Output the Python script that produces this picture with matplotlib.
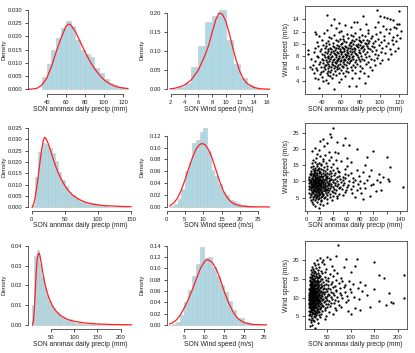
import numpy as np
import matplotlib.pyplot as plt

plt.rcParams['font.family'] = ['Liberation Sans', 'DejaVu Sans']

# ---------------- data ----------------
# row 1
precip_1_edges = list(range(35, 130, 5))
precip_1_dens = [0.0048, 0.0096, 0.0150, 0.0195, 0.0232, 0.0260, 0.0241, 0.0187, 0.0150,
                 0.0135, 0.0121, 0.0082, 0.0060, 0.0040, 0.0025, 0.0015, 0.0010, 0.0005]
precip_1_curve_x = [20, 25, 30, 35, 40, 45, 50, 55, 60, 63, 65, 70, 75, 80, 85, 90, 95,
                    100, 105, 110, 115, 120, 125]
precip_1_curve_y = [0.0000, 0.0001, 0.0004, 0.0016, 0.0042, 0.0086, 0.0142, 0.0193, 0.0237,
                    0.0247, 0.0244, 0.0219, 0.0181, 0.0143, 0.0108, 0.0079, 0.0055, 0.0036,
                    0.0023, 0.0014, 0.0008, 0.0005, 0.0003]
wind_1_edges = list(range(2, 17))
wind_1_dens = [0.001, 0.005, 0.016, 0.057, 0.113, 0.177, 0.191, 0.207, 0.130, 0.067,
               0.029, 0.011, 0.004, 0.002]
wind_1_curve_x = [1.9, 2.5, 3, 4, 5, 6, 7, 7.5, 8, 8.5, 9, 9.5, 10, 10.5, 11, 11.5, 12,
                  12.5, 13, 14, 15, 16.3]
wind_1_curve_y = [0.0012, 0.0025, 0.0045, 0.011, 0.025, 0.050, 0.090, 0.115, 0.148, 0.180,
                  0.199, 0.196, 0.177, 0.145, 0.108, 0.075, 0.047, 0.028, 0.016, 0.005,
                  0.0013, 0.0002]
pairs_1 = [
    (37, 2.8), (53, 2.7), (68, 3.2), (75, 3.1), (85, 3.6), (41, 3.9), (47, 3.6), (58, 3.8),
    (36, 4.2), (40, 4.6), (44, 4.1), (49, 4.8), (51, 4.4), (55, 4.9), (60, 4.3), (64, 4.7),
    (71, 4.5), (78, 4.4), (88, 4.8), (46, 4.9), (33, 4.5),
    (32, 5.3), (35, 5.7), (38, 5.1), (41, 5.5), (43, 5.9), (45, 5.2), (47, 5.6), (49, 5.4),
    (50, 5.8), (52, 5.1), (54, 5.5), (56, 5.9), (58, 5.3), (60, 5.7), (62, 5.2), (65, 5.6),
    (67, 5.4), (71, 5.8), (74, 5.3), (79, 5.6), (84, 5.2), (92, 5.7), (30, 5.9), (39, 5.4),
    (28, 6.2), (31, 6.6), (34, 6.1), (37, 6.7), (39, 6.3), (41, 6.9), (42, 6.2), (44, 6.6),
    (46, 6.0), (47, 6.8), (48, 6.4), (50, 6.2), (51, 6.7), (52, 6.5), (53, 6.1), (55, 6.9),
    (56, 6.3), (57, 6.6), (58, 6.0), (59, 6.8), (61, 6.4), (62, 6.2), (63, 6.7), (65, 6.5),
    (66, 6.1), (68, 6.9), (70, 6.3), (72, 6.6), (74, 6.2), (76, 6.8), (79, 6.4), (82, 6.1),
    (86, 6.7), (90, 6.3), (95, 6.5), (100, 6.9), (43, 6.5), (54, 6.35),
    (29, 7.5), (33, 7.2), (36, 7.8), (38, 7.1), (40, 7.6), (41, 7.3), (43, 7.9), (44, 7.4),
    (45, 7.0), (46, 7.7), (48, 7.2), (49, 7.5), (50, 7.8), (51, 7.1), (52, 7.4), (53, 7.6),
    (54, 7.0), (55, 7.9), (56, 7.3), (57, 7.5), (58, 7.7), (59, 7.2), (60, 7.4), (61, 7.8),
    (62, 7.1), (63, 7.6), (64, 7.3), (65, 7.9), (66, 7.0), (67, 7.5), (68, 7.7), (69, 7.2),
    (70, 7.4), (71, 7.8), (72, 7.6), (74, 7.1), (75, 7.3), (77, 7.9), (78, 7.5), (80, 7.2),
    (82, 7.6), (84, 7.4), (86, 7.8), (88, 7.1), (91, 7.5), (94, 7.3), (97, 7.7), (102, 7.4),
    (108, 7.6), (47, 7.85), (56, 7.15), (63, 7.45),
    (26, 8.3), (32, 8.6), (35, 8.1), (38, 8.8), (40, 8.4), (42, 8.2), (43, 8.7), (45, 8.5),
    (46, 8.1), (47, 8.9), (49, 8.3), (50, 8.6), (51, 8.0), (52, 8.8), (54, 8.4), (55, 8.2),
    (56, 8.7), (57, 8.5), (58, 8.1), (59, 8.9), (60, 8.3), (61, 8.6), (62, 8.0), (63, 8.8),
    (64, 8.4), (65, 8.2), (66, 8.7), (67, 8.5), (68, 8.1), (69, 8.9), (70, 8.3), (71, 8.6),
    (72, 8.0), (73, 8.8), (75, 8.4), (76, 8.2), (78, 8.7), (79, 8.5), (81, 8.1), (83, 8.9),
    (85, 8.3), (87, 8.6), (89, 8.0), (92, 8.8), (95, 8.4), (98, 8.2), (101, 8.7), (105, 8.5),
    (111, 8.3), (116, 8.9), (53, 8.45), (60, 8.75), (66, 8.15), (74, 8.55),
    (26, 9.0), (33, 9.4), (36, 9.7), (39, 9.2), (41, 9.8), (43, 9.3), (44, 9.6), (46, 9.1),
    (48, 9.9), (49, 9.4), (50, 9.2), (52, 9.7), (53, 9.5), (54, 9.0), (56, 9.8), (57, 9.3),
    (58, 9.6), (59, 9.1), (60, 9.9), (62, 9.4), (63, 9.2), (64, 9.7), (65, 9.5), (66, 9.0),
    (68, 9.8), (69, 9.3), (70, 9.6), (71, 9.1), (72, 9.9), (73, 9.4), (74, 9.2), (76, 9.7),
    (77, 9.5), (78, 9.0), (80, 9.8), (81, 9.3), (83, 9.6), (84, 9.1), (86, 9.9), (88, 9.4),
    (90, 9.2), (92, 9.7), (94, 9.5), (96, 9.0), (99, 9.8), (102, 9.3), (106, 9.6), (110, 9.1),
    (114, 9.9), (119, 9.4), (61, 9.55), (67, 9.25), (75, 9.85), (82, 9.45), (55, 9.35), (87, 9.65),
    (35, 10.3), (40, 10.7), (44, 10.1), (47, 10.5), (50, 10.9), (52, 10.2), (55, 10.6), (57, 10.4),
    (59, 10.8), (61, 10.1), (63, 10.5), (65, 10.3), (67, 10.9), (69, 10.2), (71, 10.6), (73, 10.4),
    (75, 10.8), (77, 10.0), (79, 10.5), (81, 10.3), (83, 10.7), (85, 10.1), (87, 10.6), (89, 10.4),
    (91, 10.9), (93, 10.2), (95, 10.5), (98, 10.8), (101, 10.3), (104, 10.6), (108, 10.1),
    (112, 10.7), (117, 10.4), (121, 10.9), (62, 10.75), (70, 10.35), (78, 10.65), (88, 10.15),
    (37, 11.3), (42, 11.8), (48, 11.1), (53, 11.5), (58, 11.9), (62, 11.2), (66, 11.6), (70, 11.4),
    (74, 11.8), (78, 11.1), (82, 11.5), (85, 11.3), (88, 11.7), (92, 11.2), (96, 11.6), (100, 11.9),
    (104, 11.3), (109, 11.7), (113, 11.1), (118, 11.5), (34, 11.6), (72, 11.25),
    (33, 12.0), (45, 12.3), (55, 12.6), (60, 12.1), (70, 12.8), (80, 12.4), (88, 12.2), (95, 12.7),
    (103, 12.9), (110, 12.5), (117, 12.6), (122, 12.1), (106, 12.4), (115, 12.8),
    (50, 13.0), (58, 13.4), (73, 13.5), (76, 13.5), (98, 13.6), (113, 13.9), (120, 13.3),
    (118, 13.25), (45, 14.7), (53, 14.0), (83, 14.5), (97, 15.5), (100, 14.6), (107, 14.2),
    (110, 14.1), (120, 15.3), (104, 14.4), (86, 13.2), (64, 13.1),
]

# row 2
precip_2_edges = list(range(0, 150, 5))
precip_2_dens = [0.0010, 0.0136, 0.0245, 0.0283, 0.0281, 0.0263, 0.0238, 0.0206, 0.0156,
                 0.0121, 0.0096, 0.0066, 0.0054, 0.0039, 0.0031, 0.0024, 0.0019, 0.0016,
                 0.0018, 0.0012, 0.0008, 0.0006, 0.0004, 0.0003, 0.0003, 0.0002, 0.0001,
                 0.0001, 0.0001]
precip_2_curve_x = [0.5, 3, 5, 7.5, 10, 12.5, 15, 17.5, 19.5, 22, 25, 28, 32, 36, 40, 45,
                    50, 55, 62, 70, 80, 93, 110, 130, 150]
precip_2_curve_y = [0.0, 0.0015, 0.0040, 0.0085, 0.0140, 0.0200, 0.0255, 0.0295, 0.0310,
                    0.0302, 0.0282, 0.0255, 0.0218, 0.0183, 0.0153, 0.0122, 0.0095, 0.0075,
                    0.0053, 0.0037, 0.0023, 0.0013, 0.0007, 0.0004, 0.0002]
wind_2_edges = list(range(1, 25))
wind_2_dens = [0.002, 0.0045, 0.013, 0.030, 0.060, 0.075, 0.107, 0.112, 0.127, 0.133, 0.094,
               0.063, 0.053, 0.039, 0.025, 0.020, 0.012, 0.010, 0.007, 0.0035, 0.0035,
               0.001, 0.0008]
wind_2_curve_x = [0.9, 2, 3, 4, 5, 6, 7, 8, 9, 9.7, 10.5, 11.5, 12.5, 13.5, 14.5, 15.5,
                  16.5, 17.5, 18.5, 20, 22, 25, 28]
wind_2_curve_y = [0.002, 0.007, 0.015, 0.028, 0.045, 0.064, 0.082, 0.097, 0.105, 0.107,
                  0.105, 0.096, 0.081, 0.062, 0.043, 0.027, 0.016, 0.009, 0.005, 0.002,
                  0.0007, 0.0002, 0.0001]
pairs_2 = [
    (12, 2.3), (18, 1.9), (25, 2.6), (10, 3.1), (15, 3.5), (22, 3.8), (30, 3.3), (8, 3.7), (20, 2.9),
    (6, 4.2), (9, 4.6), (12, 4.1), (14, 4.8), (17, 4.4), (19, 4.9), (22, 4.3), (26, 4.7),
    (31, 4.5), (38, 4.2), (45, 4.8), (85, 4.6),
    (5, 5.3), (7, 5.7), (9, 5.1), (11, 5.5), (12, 5.9), (14, 5.2), (16, 5.6), (17, 5.4),
    (19, 5.8), (21, 5.1), (23, 5.5), (25, 5.9), (28, 5.3), (31, 5.7), (35, 5.2), (40, 5.6),
    (46, 5.4), (55, 5.8), (72, 5.2), (95, 5.5),
    (4, 6.4), (6, 6.1), (8, 6.7), (10, 6.3), (11, 6.9), (13, 6.2), (14, 6.6), (15, 6.0),
    (17, 6.8), (18, 6.4), (20, 6.2), (21, 6.7), (23, 6.5), (25, 6.1), (27, 6.9), (29, 6.3),
    (32, 6.6), (35, 6.2), (39, 6.8), (43, 6.4), (49, 6.1), (58, 6.7), (68, 6.3), (82, 6.5),
    (104, 6.9),
    (4, 7.5), (6, 7.2), (7, 7.8), (9, 7.1), (10, 7.6), (11, 7.3), (12, 7.9), (13, 7.4),
    (14, 7.0), (15, 7.7), (16, 7.2), (17, 7.5), (18, 7.8), (19, 7.1), (20, 7.4), (22, 7.6),
    (23, 7.0), (24, 7.9), (26, 7.3), (27, 7.5), (29, 7.7), (31, 7.2), (33, 7.4), (35, 7.8),
    (38, 7.1), (41, 7.6), (44, 7.3), (48, 7.9), (53, 7.5), (59, 7.2), (66, 7.6), (75, 7.4),
    (88, 7.8), (112, 7.3),
    (5, 8.3), (6, 8.6), (8, 8.1), (9, 8.8), (10, 8.4), (11, 8.2), (12, 8.7), (13, 8.5),
    (14, 8.1), (15, 8.9), (16, 8.3), (17, 8.6), (18, 8.0), (19, 8.8), (20, 8.4), (21, 8.2),
    (22, 8.7), (24, 8.5), (25, 8.1), (27, 8.9), (28, 8.3), (30, 8.6), (32, 8.0), (34, 8.8),
    (36, 8.4), (39, 8.2), (42, 8.7), (46, 8.5), (50, 8.1), (55, 8.9), (61, 8.3), (70, 8.6),
    (80, 8.0), (97, 8.8), (145, 8.2), (3, 8.5),
    (3, 9.4), (5, 9.7), (6, 9.2), (7, 9.8), (8, 9.3), (9, 9.6), (10, 9.1), (11, 9.9),
    (12, 9.4), (13, 9.2), (14, 9.7), (15, 9.5), (16, 9.0), (17, 9.8), (18, 9.3), (19, 9.6),
    (20, 9.1), (21, 9.9), (22, 9.4), (24, 9.2), (25, 9.7), (27, 9.5), (28, 9.0), (30, 9.8),
    (32, 9.3), (34, 9.6), (37, 9.1), (40, 9.9), (43, 9.4), (47, 9.2), (51, 9.7), (56, 9.5),
    (62, 9.0), (69, 9.8), (77, 9.3), (86, 9.6), (99, 9.1), (110, 9.9), (16, 9.45), (23, 9.75),
    (3, 10.3), (4, 10.7), (6, 10.1), (7, 10.5), (8, 10.9), (9, 10.2), (10, 10.6), (11, 10.4),
    (12, 10.8), (13, 10.1), (14, 10.5), (15, 10.3), (16, 10.9), (17, 10.2), (18, 10.6),
    (19, 10.4), (20, 10.8), (21, 10.0), (22, 10.5), (23, 10.3), (25, 10.7), (26, 10.1),
    (28, 10.6), (29, 10.4), (31, 10.9), (33, 10.2), (35, 10.5), (37, 10.8), (40, 10.3),
    (43, 10.6), (46, 10.1), (50, 10.7), (54, 10.4), (58, 10.9), (64, 10.2), (72, 10.5),
    (80, 10.0), (90, 10.4), (105, 10.3), (122, 10.7), (123, 10.2), (18, 10.15),
    (4, 11.3), (6, 11.8), (8, 11.1), (9, 11.5), (11, 11.9), (12, 11.2), (13, 11.6), (15, 11.4),
    (16, 11.8), (17, 11.1), (19, 11.5), (20, 11.3), (22, 11.7), (23, 11.2), (25, 11.6),
    (27, 11.9), (29, 11.3), (31, 11.7), (34, 11.1), (37, 11.5), (41, 11.8), (45, 11.2),
    (49, 11.6), (55, 11.4), (62, 11.9), (70, 11.1), (78, 11.5), (93, 11.7), (115, 11.3), (14, 11.05),
    (5, 12.3), (7, 12.7), (9, 12.1), (11, 12.5), (13, 12.9), (14, 12.2), (16, 12.6), (18, 12.4),
    (20, 12.8), (22, 12.1), (24, 12.5), (27, 12.3), (30, 12.7), (33, 12.2), (37, 12.6),
    (42, 12.4), (48, 12.8), (57, 12.1), (67, 12.5), (84, 12.9), (108, 12.3),
    (6, 13.3), (9, 13.8), (11, 13.1), (13, 13.6), (15, 13.4), (17, 13.9), (19, 13.2), (21, 13.7),
    (24, 13.5), (27, 13.1), (30, 13.8), (35, 13.3), (40, 13.6), (47, 13.2), (58, 13.9),
    (75, 13.4), (96, 13.5),
    (7, 14.4), (10, 14.8), (13, 14.2), (16, 14.6), (19, 14.1), (22, 14.9), (26, 14.3), (31, 14.7),
    (37, 14.4), (45, 14.2), (60, 14.8), (125, 14.3),
    (8, 15.5), (12, 15.9), (15, 15.2), (18, 15.7), (21, 15.4), (25, 16.1), (29, 15.6), (34, 16.5),
    (40, 15.3), (52, 16.2), (66, 15.8), (10, 16.7), (24, 16.9), (44, 16.4), (88, 15.1),
    (14, 17.3), (20, 17.8), (28, 18.2), (36, 17.5), (47, 18.6), (60, 17.1), (90, 17.5),
    (120, 17.4), (12, 20.3), (8, 19.2), (18, 19.6), (26, 20.8), (33, 19.1), (42, 18.9),
    (55, 21.3), (63, 21.3), (20, 22.5), (25, 23.0), (35, 24.5), (37, 23.5), (40, 26.3),
    (45, 22.2), (58, 23.3), (100, 19.2), (75, 19.8), (30, 21.9), (16, 18.4),
]

# row 3
precip_3_edges = list(range(10, 220, 5))
precip_3_dens = [0.0100, 0.0350, 0.0380, 0.0310, 0.0240, 0.0190, 0.0150, 0.0120, 0.0100,
                 0.0085, 0.0068, 0.0058, 0.0046, 0.0040, 0.0030, 0.0027, 0.0030, 0.0016,
                 0.0012, 0.0010, 0.0013, 0.0007, 0.0006, 0.0004, 0.0004, 0.0003, 0.0003,
                 0.0002, 0.0006, 0.0002, 0.0002, 0.0002, 0.0001, 0.0002, 0.0001, 0.0002,
                 0.0001, 0.0, 0.0, 0.0001, 0.0002]
precip_3_curve_x = [11, 13, 15, 17, 19, 21, 23, 25, 27, 30, 33, 36, 40, 45, 50, 55, 60, 70,
                    80, 90, 100, 120, 150, 180, 223]
precip_3_curve_y = [0.0, 0.002, 0.008, 0.017, 0.027, 0.033, 0.0358, 0.0363, 0.035, 0.031,
                    0.0265, 0.0225, 0.0185, 0.0145, 0.0115, 0.0092, 0.0074, 0.005, 0.0035,
                    0.0025, 0.0019, 0.0011, 0.0005, 0.00025, 0.0001]
wind_3_edges = list(range(1, 25))
wind_3_dens = [0.0, 0.001, 0.005, 0.017, 0.040, 0.062, 0.087, 0.107, 0.138, 0.118, 0.120,
               0.103, 0.086, 0.071, 0.058, 0.042, 0.026, 0.013, 0.012, 0.005, 0.003, 0.002,
               0.001]
wind_3_curve_x = [1.3, 2, 3, 4, 5, 6, 7, 8, 9, 10, 10.8, 12, 13, 14, 15, 16, 17, 18, 19,
                  20, 22, 25.5]
wind_3_curve_y = [0.002, 0.004, 0.009, 0.018, 0.031, 0.046, 0.063, 0.082, 0.100, 0.112,
                  0.116, 0.110, 0.098, 0.080, 0.058, 0.040, 0.025, 0.014, 0.008, 0.004,
                  0.001, 0.0002]
pairs_3 = [
    (14, 2.3), (19, 2.8), (25, 2.0), (16, 3.4), (22, 3.7), (30, 3.1), (13, 4.2), (18, 4.6),
    (21, 4.1), (24, 4.8), (28, 4.4), (35, 4.7), (45, 4.3), (17, 3.9),
    (13, 5.3), (15, 5.7), (17, 5.1), (19, 5.5), (20, 5.9), (22, 5.2), (24, 5.6), (26, 5.4),
    (29, 5.8), (33, 5.3), (38, 5.6), (48, 5.2), (62, 5.7), (100, 5.5),
    (13, 6.4), (14, 6.1), (16, 6.7), (17, 6.3), (18, 6.9), (19, 6.2), (21, 6.6), (22, 6.0),
    (23, 6.8), (25, 6.4), (26, 6.2), (28, 6.7), (30, 6.5), (33, 6.1), (36, 6.9), (40, 6.3),
    (46, 6.6), (55, 6.2), (70, 6.8), (95, 6.4), (120, 6.7),
    (12, 7.5), (14, 7.2), (15, 7.8), (16, 7.1), (17, 7.6), (18, 7.3), (19, 7.9), (20, 7.4),
    (21, 7.0), (22, 7.7), (23, 7.2), (24, 7.5), (25, 7.8), (26, 7.1), (27, 7.4), (29, 7.6),
    (31, 7.0), (33, 7.9), (35, 7.3), (38, 7.5), (41, 7.7), (45, 7.2), (50, 7.4), (57, 7.8),
    (66, 7.1), (80, 7.6), (110, 7.3), (140, 7.6),
    (12, 8.3), (13, 8.6), (14, 8.1), (15, 8.8), (16, 8.4), (17, 8.2), (18, 8.7), (19, 8.5),
    (20, 8.1), (21, 8.9), (22, 8.3), (23, 8.6), (24, 8.0), (25, 8.8), (26, 8.4), (27, 8.2),
    (28, 8.7), (30, 8.5), (31, 8.1), (33, 8.9), (35, 8.3), (37, 8.6), (40, 8.0), (43, 8.8),
    (47, 8.4), (52, 8.2), (58, 8.7), (65, 8.5), (75, 8.1), (90, 8.9), (185, 8.8), (190, 8.6),
    (175, 8.1), (20, 8.45),
    (12, 9.4), (13, 9.7), (14, 9.2), (15, 9.8), (16, 9.3), (17, 9.6), (18, 9.1), (19, 9.9),
    (20, 9.4), (21, 9.2), (22, 9.7), (23, 9.5), (24, 9.0), (25, 9.8), (26, 9.3), (27, 9.6),
    (28, 9.1), (29, 9.9), (30, 9.4), (31, 9.2), (33, 9.7), (34, 9.5), (36, 9.0), (38, 9.8),
    (40, 9.3), (42, 9.6), (45, 9.1), (48, 9.9), (51, 9.4), (55, 9.2), (60, 9.7), (66, 9.5),
    (73, 9.0), (82, 9.8), (95, 9.3), (118, 9.6), (212, 9.8), (160, 9.2), (19, 9.55),
    (23, 9.25), (27, 9.85), (16, 9.05),
    (12, 10.3), (13, 10.7), (14, 10.1), (15, 10.5), (16, 10.9), (17, 10.2), (18, 10.6),
    (19, 10.4), (20, 10.8), (21, 10.1), (22, 10.5), (23, 10.3), (24, 10.9), (25, 10.2),
    (26, 10.6), (27, 10.4), (28, 10.8), (29, 10.0), (31, 10.5), (32, 10.3), (34, 10.7),
    (36, 10.1), (38, 10.6), (40, 10.4), (43, 10.9), (46, 10.2), (50, 10.5), (54, 10.8),
    (59, 10.3), (64, 10.6), (71, 10.1), (80, 10.7), (92, 10.4), (108, 10.3), (135, 10.6),
    (18, 10.25), (21, 10.75), (25, 10.45),
    (13, 11.3), (14, 11.8), (15, 11.1), (16, 11.5), (17, 11.9), (18, 11.2), (19, 11.6),
    (20, 11.4), (21, 11.8), (22, 11.1), (23, 11.5), (24, 11.3), (25, 11.7), (26, 11.2),
    (27, 11.6), (28, 11.9), (30, 11.3), (31, 11.7), (33, 11.1), (35, 11.5), (37, 11.8),
    (39, 11.2), (42, 11.6), (45, 11.4), (49, 11.9), (53, 11.1), (58, 11.5), (63, 11.3),
    (70, 11.7), (78, 11.2), (88, 11.6), (100, 11.4), (180, 11.2), (125, 11.8), (17, 11.45),
    (20, 11.05), (24, 11.85), (29, 11.55),
    (13, 12.3), (14, 12.7), (15, 12.1), (16, 12.5), (17, 12.9), (18, 12.2), (19, 12.6),
    (20, 12.4), (21, 12.8), (22, 12.1), (23, 12.5), (25, 12.3), (26, 12.7), (27, 12.2),
    (29, 12.6), (30, 12.4), (32, 12.8), (34, 12.1), (36, 12.5), (38, 12.9), (41, 12.3),
    (44, 12.7), (48, 12.2), (52, 12.6), (57, 12.4), (62, 12.8), (69, 12.1), (77, 12.5),
    (86, 12.9), (98, 12.3), (115, 12.6), (150, 12.2), (19, 12.05),
    (14, 13.3), (15, 13.8), (16, 13.1), (17, 13.6), (18, 13.4), (19, 13.9), (20, 13.2),
    (21, 13.7), (22, 13.5), (24, 13.1), (25, 13.8), (27, 13.3), (28, 13.6), (30, 13.2),
    (32, 13.9), (34, 13.4), (37, 13.7), (40, 13.1), (44, 13.5), (48, 13.8), (53, 13.3),
    (59, 13.6), (66, 13.2), (75, 13.9), (88, 13.4), (105, 13.7), (130, 13.3),
    (14, 14.4), (15, 14.8), (17, 14.2), (18, 14.6), (19, 14.1), (21, 14.9), (22, 14.3),
    (23, 14.7), (25, 14.5), (26, 14.1), (28, 14.8), (30, 14.4), (32, 14.2), (35, 14.6),
    (38, 14.9), (42, 14.3), (47, 14.7), (53, 14.5), (60, 14.1), (70, 14.8), (82, 14.4),
    (97, 14.6), (120, 14.2),
    (15, 15.5), (16, 15.2), (18, 15.8), (19, 15.4), (21, 15.1), (22, 15.7), (24, 15.3),
    (26, 15.9), (28, 15.6), (30, 15.2), (33, 15.5), (36, 15.8), (40, 15.1), (45, 15.6),
    (52, 15.4), (62, 15.9), (80, 15.3), (170, 15.3), (160, 16.0),
    (16, 16.4), (18, 16.8), (20, 16.2), (22, 16.6), (24, 16.9), (27, 16.3), (30, 16.7),
    (34, 16.1), (39, 16.5), (45, 16.8), (56, 16.3), (72, 16.6), (213, 16.1), (100, 16.9),
    (17, 17.3), (20, 17.7), (23, 17.2), (27, 17.9), (31, 17.5), (37, 17.1), (48, 17.6),
    (65, 17.4), (19, 18.3), (25, 18.7), (33, 18.2), (44, 18.9), (60, 18.5), (22, 19.4),
    (30, 19.1), (40, 19.7), (86, 18.1), (150, 19.7), (110, 18.5),
    (73, 24.2), (68, 21.3), (90, 20.5), (57, 20.3), (113, 20.5), (42, 20.1), (35, 20.6),
    (28, 20.2), (50, 21.0),
]

precip_label = 'SON annmax daily precip (mm)'
wind_label = 'SON Wind speed (m/s)'

# ---------------- layout (pixels) ----------------
W, H = 415, 353
col_left = [28, 166.5, 304.5]
col_w = [103.5, 103.5, 102]
row_top = [6, 122.5, 241]
row_h = 88

fig = plt.figure(figsize=(W / 100, H / 100), dpi=100)

TICK_FS = 4.2
LABEL_FS = 4.9
BAR_FILL = '#add8e6'
BAR_EDGE = '#c4c4c4'
LW = 0.55


def panel(r, c):
    left, top, w = col_left[c], row_top[r], col_w[c]
    return fig.add_axes([left / W, 1 - (top + row_h) / H, w / W, row_h / H])


def dress(ax, xlim, ylim, xticks, yticks, xlabel, ylabel, yfmt, c, box=False, xtick_labels=None):
    ax.set_xlim(xlim)
    ax.set_ylim(ylim)
    ax.set_xticks(xticks)
    ax.set_yticks(yticks)
    if xtick_labels is not None:
        ax.set_xticklabels(xtick_labels)
    ax.set_yticklabels([yfmt.format(v) for v in yticks])
    ax.tick_params(length=2.4, width=LW, labelsize=TICK_FS, colors='#222222')
    ax.tick_params(axis='x', pad=2.0)
    ax.tick_params(axis='y', pad=1.6)
    for s in ax.spines.values():
        s.set_linewidth(LW)
        s.set_color('#333333')
    if not box:
        ax.spines['top'].set_visible(False)
        ax.spines['right'].set_visible(False)
        ax.spines['left'].set_bounds(yticks[0], yticks[-1])
        ax.spines['bottom'].set_bounds(xticks[0], xticks[-1])
    ax.set_xlabel(xlabel, fontsize=LABEL_FS, va='center', color='#222222')
    ax.set_ylabel(ylabel, fontsize=LABEL_FS - (0.5 if not box else 0), va='center', color='#222222')
    ax.xaxis.set_label_coords(0.5, -15.2 / row_h)
    ylab_px = [4.0, 142.3, 286.7][c]
    ax.yaxis.set_label_coords((ylab_px - col_left[c]) / col_w[c], 0.5)


def hist_panel(r, c, edges, dens, cx, cy, xlim, ylim, xticks, yticks, xlabel, yfmt):
    ax = panel(r, c)
    ax.bar(edges[:-1], dens, width=np.diff(edges), align='edge', color=BAR_FILL,
           edgecolor=BAR_EDGE, linewidth=0.4)
    ax.plot(cx, cy, color='#ff2020', lw=0.9)
    dress(ax, xlim, ylim, xticks, yticks, xlabel, 'Density', yfmt, c)
    return ax


def scatter_panel(r, pairs, xlim, ylim, xticks, yticks, xtick_labels=None):
    ax = panel(r, 2)
    px, wy = np.array(pairs, dtype=float).T
    ax.scatter(px, wy, s=2.7, c='black', marker='o', linewidths=0)
    dress(ax, xlim, ylim, xticks, yticks, precip_label, 'Wind speed (m/s)', '{:g}', 2,
          box=True, xtick_labels=xtick_labels)
    return ax


# row 1
hist_panel(0, 0, precip_1_edges, precip_1_dens, precip_1_curve_x, precip_1_curve_y,
           (20.4, 128.9), (-0.00178, 0.03152), [40, 60, 80, 100, 120],
           [0, 0.005, 0.010, 0.015, 0.020, 0.025, 0.030], precip_label, '{:.3f}')
hist_panel(0, 1, wind_1_edges, wind_1_dens, wind_1_curve_x, wind_1_curve_y,
           (1.39, 16.39), (-0.0123, 0.2175), [2, 4, 6, 8, 10, 12, 14, 16],
           [0, 0.05, 0.10, 0.15, 0.20], wind_label, '{:.2f}')
scatter_panel(0, pairs_1, (22.3, 127.4), (1.83, 16.17), [40, 60, 80, 100, 120],
              [4, 6, 8, 10, 12, 14])

# row 2
hist_panel(1, 0, precip_2_edges, precip_2_dens, precip_2_curve_x, precip_2_curve_y,
           (-5.6, 150.8), (-0.00146, 0.03753), [0, 50, 100, 150],
           [0, 0.005, 0.010, 0.015, 0.020, 0.025, 0.030, 0.035], precip_label, '{:.3f}')
hist_panel(1, 1, wind_2_edges, wind_2_dens, wind_2_curve_x, wind_2_curve_y,
           (0, 28.2), (-0.0059, 0.1423), [0, 5, 10, 15, 20, 25],
           [0, 0.02, 0.04, 0.06, 0.08, 0.10, 0.12], wind_label, '{:.2f}')
scatter_panel(1, pairs_2, (-3.3, 149.8), (1.0, 28.1), [0, 20, 40, 60, 80, 100, 120, 140],
              [5, 10, 15, 20, 25], ['0', '20', '40', '60', '80', '100', '', '140'])

# row 3
hist_panel(2, 0, precip_3_edges, precip_3_dens, precip_3_curve_x, precip_3_curve_y,
           (1.36, 223.1), (-0.00202, 0.04242), [50, 100, 150, 200],
           [0, 0.01, 0.02, 0.03, 0.04], precip_label, '{:.2f}')
hist_panel(2, 1, wind_3_edges, wind_3_dens, wind_3_curve_x, wind_3_curve_y,
           (0.5, 26.4), (-0.00706, 0.1483), [5, 10, 15, 20, 25],
           [0, 0.02, 0.04, 0.06, 0.08, 0.10, 0.12, 0.14], wind_label, '{:.2f}')
scatter_panel(2, pairs_3, (2.5, 218.0), (1.6, 25.2), [50, 100, 150, 200], [5, 10, 15, 20])

fig.savefig('out.png', dpi=100)
